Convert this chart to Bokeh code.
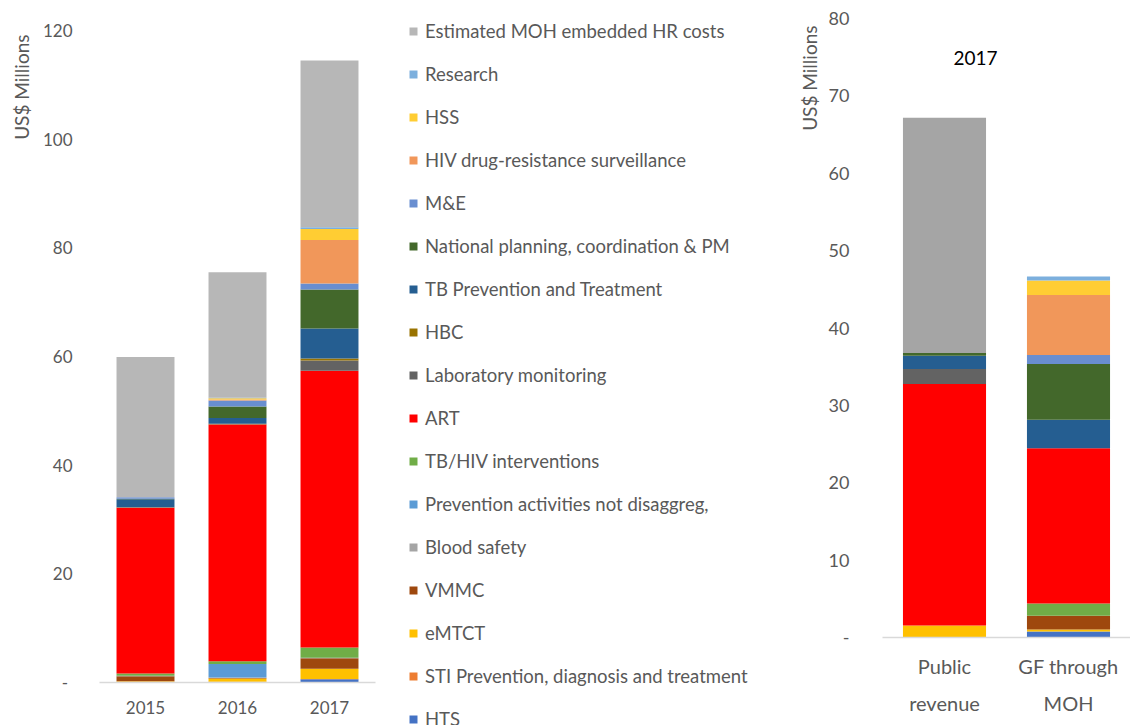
from bokeh.plotting import figure
from bokeh.models import (ColumnDataSource, Range1d, FactorRange, FixedTicker,
                          Legend, LegendItem, Label, Title)
from bokeh.layouts import row, column
from bokeh.embed import file_html
from bokeh.resources import INLINE

# ---------------- data ----------------
years = ["2015", "2016", "2017"]
funder_line1 = ["Public", "GF through"]
funder_line2 = ["revenue", "MOH"]
funders = list(zip(funder_line2, funder_line1))   # (outer line, inner line)

# stacking order: bottom -> top
series = [
    "HTS",
    "STI Prevention, diagnosis and treatment",
    "eMTCT",
    "VMMC",
    "Blood safety",
    "Prevention activities not disaggreg,",
    "TB/HIV interventions",
    "ART",
    "Laboratory monitoring",
    "HBC",
    "TB Prevention and Treatment",
    "National planning, coordination & PM",
    "M&E",
    "HIV drug-resistance surveillance",
    "HSS",
    "Research",
    "Estimated MOH embedded HR costs",
]
colors = ["#4472C4", "#ED7D31", "#FFC000", "#9E480E", "#A5A5A5", "#5B9BD5",
          "#70AD47", "#FF0000", "#636363", "#997300", "#255E91", "#43682B",
          "#698ED0", "#F1975A", "#FFCD33", "#7CAFDD", "#B7B7B7"]
colors_right = colors[:-1] + ["#A5A5A5"]

# values (US$ millions) in the same order as `series`
y2015 = [0.1, 0.05, 0.1, 0.9, 0.05, 0.05, 0.4, 30.5, 0.05, 0.05, 1.5, 0.05, 0.3, 0.0, 0.0, 0.0, 25.8]
y2016 = [0.1, 0.05, 0.6, 0.1, 0.05, 2.5, 0.5, 43.6, 0.05, 0.05, 1.1, 2.1, 1.1, 0.2, 0.2, 0.1, 23.1]
y2017 = [0.6, 0.05, 1.9, 1.9, 0.05, 0.05, 1.9, 50.95, 1.85, 0.4, 5.5, 7.2, 1.1, 8.0, 2.0, 0.35, 30.7]
public_revenue = [0.0, 0.0, 1.55, 0.0, 0.0, 0.0, 0.0, 31.2, 1.94, 0.0, 1.72, 0.35, 0.0, 0.0, 0.0, 0.0, 30.4]
gf_through_moh = [0.77, 0.0, 0.26, 1.77, 0.0, 0.0, 1.6, 20.05, 0.0, 0.0, 3.7, 7.2, 1.15, 7.75, 1.9, 0.5, 0.0]

left_ticks = [0, 20, 40, 60, 80, 100, 120]
right_ticks = [0, 10, 20, 30, 40, 50, 60, 70, 80]

FONT = "Lato"
GREY = "#595959"
H = 725


def style(p, ticks, ystand, yfs, xfs, xstand, zero_label, title_standoff, title_offset):
    p.outline_line_color = None
    p.xgrid.visible = False
    p.ygrid.visible = False
    p.background_fill_color = "white"
    p.border_fill_color = "white"
    p.yaxis.ticker = FixedTicker(ticks=ticks)
    p.yaxis.major_label_overrides = {0: zero_label}
    p.yaxis.axis_line_color = None
    p.yaxis.major_tick_line_color = None
    p.yaxis.minor_tick_line_color = None
    p.yaxis.major_label_standoff = ystand
    p.yaxis.major_label_text_font = FONT
    p.yaxis.major_label_text_font_size = yfs
    p.yaxis.major_label_text_color = GREY
    p.xaxis.axis_line_color = "#D9D9D9"
    p.xaxis.axis_line_width = 1.5
    p.xaxis.major_tick_line_color = None
    p.xaxis.minor_tick_line_color = None
    p.xaxis.major_label_standoff = xstand
    p.xaxis.major_label_text_font = FONT
    p.xaxis.major_label_text_font_size = xfs
    p.xaxis.major_label_text_color = GREY
    p.add_layout(Title(text="US$ Millions", align="right", text_font=FONT,
                       text_font_size="19px", text_color=GREY, offset=title_offset,
                       text_font_style="normal", standoff=title_standoff), "left")


# ---------------- left chart ----------------
ldata = {"x": years}
for i, name in enumerate(series):
    ldata[name] = [y2015[i], y2016[i], y2017[i]]
lsrc = ColumnDataSource(ldata)

p1 = figure(x_range=FactorRange(*years, range_padding=0), y_range=Range1d(0, 120),
            width=390, height=H, output_backend="svg", toolbar_location=None,
            min_border_left=99, min_border_right=15, min_border_top=30,
            min_border_bottom=43)
p1.vbar_stack(series, x="x", width=0.63, fill_color=colors, line_color=None,
              source=lsrc)
style(p1, left_ticks, 21, "17px", "17px", 12, "-\u00a0", 14, 4)

# ---------------- legend panel ----------------
pL = figure(x_range=FactorRange(*years), y_range=Range1d(0, 120),
            width=400, height=H, output_backend="svg", toolbar_location=None,
            x_axis_type=None, y_axis_type=None,
            min_border_left=0, min_border_right=0, min_border_top=0,
            min_border_bottom=0)
pL.outline_line_color = None
pL.xgrid.visible = False
pL.ygrid.visible = False
lrs = pL.vbar_stack(series, x="x", width=0.63, fill_color=colors, line_color=None,
                    source=lsrc)
for r in lrs:
    r.visible = False
items = [LegendItem(label=series[i], renderers=[lrs[i]]) for i in range(len(series) - 1, -1, -1)]
leg = Legend(items=items, location=(18, -5), orientation="vertical",
             glyph_width=10, glyph_height=10, label_height=22, spacing=21,
             label_standoff=7, padding=0, margin=0,
             label_text_font=FONT, label_text_font_size="18.5px",
             label_text_color=GREY, border_line_color=None,
             background_fill_alpha=0, inactive_fill_alpha=0)
pL.add_layout(leg, "center")

# ---------------- right chart ----------------
rdata = {"x": funders}
for i, name in enumerate(series):
    rdata[name] = [public_revenue[i], gf_through_moh[i]]
rsrc = ColumnDataSource(rdata)

p2 = figure(x_range=FactorRange(*funders, range_padding=0, group_padding=0,
                                factor_padding=0),
            y_range=Range1d(0, 80),
            width=340, height=H, output_backend="svg", toolbar_location=None,
            min_border_left=92, min_border_right=0, min_border_top=18,
            min_border_bottom=88)
p2.vbar_stack(series, x="x", width=0.67, fill_color=colors_right, line_color=None,
              source=rsrc)
style(p2, right_ticks, 27, "18px", "20px", 10, "-", 10, 7)
p2.xaxis.group_text_font = FONT
p2.xaxis.group_text_font_size = "20px"
p2.xaxis.group_text_color = GREY
p2.xaxis.group_text_font_style = "normal"
p2.xaxis.separator_line_color = None

p2.add_layout(Label(x=93, y=580, x_units="screen", y_units="screen",
                    text="2017", text_align="center", text_baseline="middle",
                    text_font=FONT, text_font_size="19px", text_color="black"))

layout = row(column(p1), column(pL), column(p2), spacing=0)
open("out.html", "w").write(file_html(layout, INLINE))
